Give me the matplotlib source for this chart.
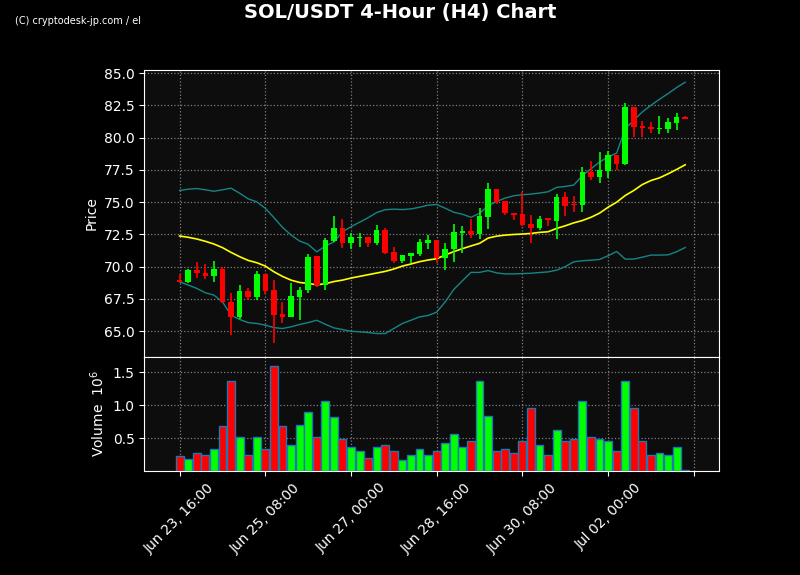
import numpy as np
import pandas as pd
import matplotlib
matplotlib.use('Agg')
import matplotlib.pyplot as plt

# SOL/USDT 4h candles
start = '2025-06-23 16:00'
opens = [68.95, 68.80, 69.74, 69.53, 69.30, 69.82, 67.28, 66.11, 68.11, 67.67,
         69.43, 68.19, 66.32, 66.11, 67.67, 68.19, 70.83, 68.58, 72.00, 73.00,
         71.87, 72.25, 72.31, 71.81, 72.85, 71.14, 70.47, 70.83, 71.01, 71.87,
         72.07, 70.70, 71.35, 72.64, 72.77, 72.51, 73.89, 76.00, 75.12, 74.18,
         74.10, 73.30, 73.02, 73.74, 73.57, 75.43, 74.83, 74.77, 77.38, 76.94,
         77.41, 78.68, 77.93, 82.36, 80.88, 80.83, 80.70, 80.70, 81.14, 81.58]
highs = [69.40, 69.80, 70.39, 70.18, 70.44, 69.95, 68.00, 68.55, 68.32, 69.66,
         69.45, 68.96, 67.28, 68.76, 68.45, 70.98, 70.83, 72.20, 73.94, 73.68,
         72.60, 72.60, 72.31, 73.21, 72.98, 71.55, 70.91, 71.09, 72.18, 72.46,
         72.07, 71.81, 73.29, 73.16, 73.68, 74.53, 76.48, 76.00, 75.12, 74.18,
         75.76, 74.00, 73.92, 73.74, 75.63, 75.82, 75.48, 77.72, 78.19, 78.89,
         78.96, 78.68, 82.72, 82.36, 81.32, 81.19, 81.66, 81.50, 81.89, 81.71]
lows = [68.78, 68.72, 69.09, 69.02, 68.78, 67.20, 64.69, 65.98, 67.40, 67.40,
        67.90, 64.07, 65.60, 66.08, 65.90, 67.93, 68.40, 68.19, 71.90, 71.42,
        71.37, 71.50, 71.50, 71.66, 70.99, 70.31, 70.26, 70.26, 70.83, 71.35,
        70.26, 69.74, 70.36, 71.04, 72.20, 72.12, 72.90, 74.86, 74.03, 73.61,
        73.17, 71.83, 72.84, 73.12, 72.14, 73.90, 74.26, 74.27, 76.74, 76.50,
        76.84, 77.51, 77.88, 80.05, 80.05, 80.36, 80.31, 80.39, 80.62, 81.45]
closes = [68.80, 69.74, 69.53, 69.30, 69.79, 67.28, 66.11, 68.11, 67.67, 69.43,
          68.11, 66.24, 66.11, 67.72, 68.19, 70.75, 68.58, 72.07, 73.00, 71.87,
          72.31, 72.31, 71.81, 72.85, 71.09, 70.47, 70.91, 71.06, 71.92, 72.07,
          70.65, 71.37, 72.69, 72.77, 72.51, 73.94, 76.00, 75.04, 74.13, 74.03,
          73.25, 73.02, 73.72, 73.59, 75.43, 74.73, 74.75, 77.38, 76.94, 77.46,
          78.68, 77.93, 82.36, 80.83, 80.75, 80.67, 80.78, 81.24, 81.58, 81.45]
# volume in millions
volumes = [0.22, 0.18, 0.27, 0.25, 0.34, 0.68, 1.36, 0.51, 0.24, 0.51,
           0.33, 1.59, 0.68, 0.40, 0.70, 0.89, 0.51, 1.06, 0.82, 0.49,
           0.37, 0.31, 0.19, 0.36, 0.40, 0.30, 0.16, 0.25, 0.34, 0.25,
           0.30, 0.42, 0.56, 0.37, 0.45, 1.37, 0.83, 0.31, 0.33, 0.27,
           0.45, 0.96, 0.40, 0.25, 0.62, 0.46, 0.49, 1.06, 0.51, 0.49,
           0.45, 0.30, 1.37, 0.95, 0.46, 0.24, 0.27, 0.24, 0.36, 0.01]
# bollinger bands
bb_mid = [72.38, 72.28, 72.15, 71.97, 71.76, 71.48, 71.11, 70.78, 70.49, 70.31,
          70.05, 69.61, 69.25, 68.96, 68.78, 68.70, 68.60, 68.68, 68.85, 68.96,
          69.12, 69.25, 69.38, 69.51, 69.64, 69.82, 70.05, 70.21, 70.39, 70.52,
          70.62, 70.91, 71.17, 71.40, 71.61, 71.81, 72.22, 72.37, 72.45, 72.50,
          72.53, 72.58, 72.66, 72.71, 72.97, 73.17, 73.40, 73.58, 73.83, 74.15,
          74.61, 75.00, 75.52, 75.91, 76.37, 76.68, 76.89, 77.20, 77.54, 77.90]
bb_up = [75.91, 76.01, 76.06, 75.96, 75.85, 75.96, 76.09, 75.70, 75.26, 75.03,
         74.53, 73.81, 73.06, 72.46, 71.99, 71.74, 71.15, 71.60, 71.92, 72.70,
         73.10, 73.45, 73.80, 74.20, 74.42, 74.46, 74.43, 74.48, 74.61, 74.77,
         74.82, 74.53, 74.22, 74.07, 73.83, 74.14, 74.72, 75.06, 75.32, 75.50,
         75.58, 75.63, 75.71, 75.81, 76.15, 76.22, 76.33, 77.07, 77.59, 78.11,
         78.50, 78.81, 80.70, 81.35, 82.00, 82.51, 82.98, 83.42, 83.89, 84.30]
bb_low = [68.83, 68.58, 68.32, 67.98, 67.80, 67.28, 66.24, 65.91, 65.67, 65.60,
          65.47, 65.28, 65.21, 65.34, 65.52, 65.67, 65.85, 65.54, 65.26, 65.13,
          65.00, 64.95, 64.90, 64.82, 64.82, 65.21, 65.60, 65.85, 66.11, 66.22,
          66.48, 67.28, 68.24, 68.91, 69.56, 69.56, 69.70, 69.52, 69.44, 69.44,
          69.47, 69.49, 69.55, 69.60, 69.73, 70.01, 70.38, 70.46, 70.51, 70.56,
          70.85, 71.18, 70.59, 70.59, 70.74, 70.90, 70.90, 70.92, 71.16, 71.49]

df = pd.DataFrame({'Open': opens, 'High': highs, 'Low': lows, 'Close': closes,
                   'Volume': volumes, 'mid': bb_mid, 'up': bb_up, 'low': bb_low})
df.index = pd.date_range(start, periods=len(df), freq='4h')
x = np.arange(len(df))
up = df['Close'] >= df['Open']
col = np.where(up, '#00ff00', '#ff0000')

fig = plt.figure(figsize=(8, 5.75), dpi=100, facecolor='black')
ax1 = fig.add_axes([0.1806, 0.3791, 0.71875, 0.4992])
ax2 = fig.add_axes([0.1806, 0.1809, 0.71875, 0.1982], sharex=ax1)

# candles
ax1.vlines(x, df['Low'], df['High'], colors=col, linewidth=1.2, zorder=3)
body = np.maximum((df['Close'] - df['Open']).abs(), 0.05)
ax1.bar(x, body, bottom=np.minimum(df['Open'], df['Close']), width=0.65,
        color=col, linewidth=0, zorder=4)
ax1.plot(x, df['up'], color='#168585', linewidth=1.0, zorder=2)
ax1.plot(x, df['low'], color='#168585', linewidth=1.0, zorder=2)
ax1.plot(x, df['mid'], color='yellow', linewidth=1.2, zorder=2)
ax1.set_ylim(63.0, 85.25)
ax1.set_ylabel('Price', color='white', fontsize=10)

# volume
ax2.bar(x, df['Volume'], width=0.92, color=col, edgecolor='#1f77b4', linewidth=1.0, zorder=3)
ax2.set_ylim(0, 1.73)
ax2.set_yticks([0.5, 1.0, 1.5])
ax2.set_ylabel('Volume  $10^{6}$', color='white', fontsize=10)

ticks = list(range(0, 61, 10))
labels = [df.index[i].strftime('%b %d, %H:%M') if i < len(df) else '' for i in ticks]
ax2.set_xticks(ticks)
ax2.set_xticklabels(labels, rotation=45)
ax2.set_xlim(-4.1, 63.0)
plt.setp(ax1.get_xticklabels(), visible=False)

for ax in (ax1, ax2):
  ax.set_facecolor('#0d0d0d')
  ax.grid(True, color='#999999', linestyle=':', linewidth=0.9, alpha=0.8)
  ax.set_axisbelow(True)
  ax.tick_params(colors='white', labelsize=10)
  for s in ax.spines.values():
    s.set_color('white')

fig.suptitle('SOL/USDT 4-Hour (H4) Chart', color='white', fontsize=14,
             fontweight='bold', y=0.995)
fig.text(0.019, 0.963, '(C) cryptodesk-jp.com / el', color='white', fontsize=7,
         family=['Liberation Sans Narrow', 'DejaVu Sans'], va='center')

plt.savefig('out.png', dpi=100, facecolor='black')
